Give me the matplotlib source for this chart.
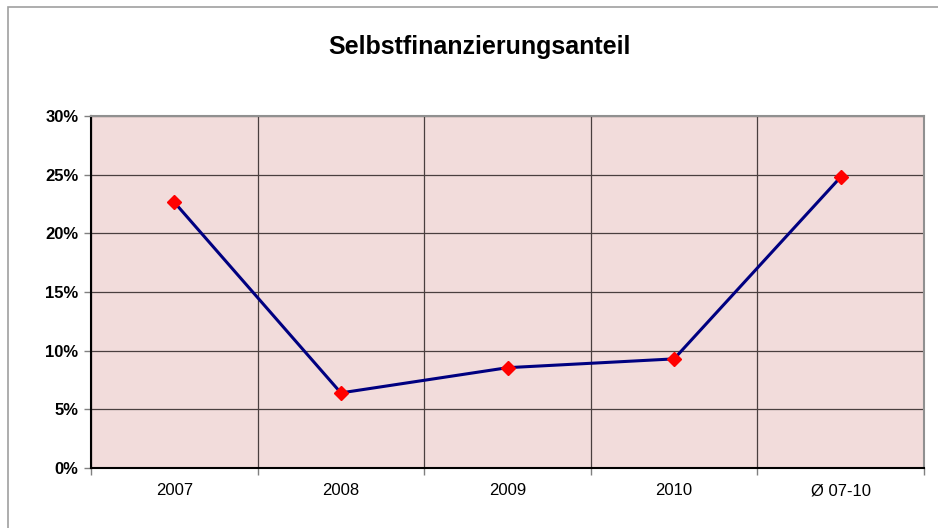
import numpy as np
import matplotlib
matplotlib.use('Agg')
import matplotlib.pyplot as plt
from matplotlib.patches import Rectangle
from matplotlib.ticker import FuncFormatter, FixedLocator

plt.rcParams['font.family'] = ['Liberation Sans', 'DejaVu Sans']

categories = ['2007', '2008', '2009', '2010', 'Ø 07-10']
anteil = [22.65, 6.4, 8.55, 9.3, 24.8]

fig = plt.figure(figsize=(9.38, 5.28), dpi=100)
# Rahmen um das Diagramm
fig.patches.append(Rectangle((8/938, -0.01), 1.0, 1 - 7/528 + 0.01, transform=fig.transFigure,
                             fill=False, edgecolor='#a0a0a0', linewidth=1.2))

ax = fig.add_axes([91/938, 60/528, 833/938, 352/528])
ax.set_facecolor('#f2dcdb')

x = np.arange(len(categories))
ax.plot(x, anteil, color='#000080', linewidth=2.2, marker='D', markersize=7,
        markerfacecolor='red', markeredgecolor='red', zorder=3)

ax.set_xlim(-0.5, len(categories) - 0.5)
ax.set_ylim(0, 30)
ax.set_yticks(np.arange(0, 31, 5))
ax.yaxis.set_major_formatter(FuncFormatter(lambda v, p: f'{v:.0f}%'))
ax.set_xticks(x)
ax.set_xticklabels(categories, fontsize=12)
ax.xaxis.set_minor_locator(FixedLocator(np.arange(-0.5, len(categories), 1)))
ax.tick_params(axis='x', which='major', length=0, pad=11)
ax.tick_params(axis='x', which='minor', length=5, width=1, color='#808080', direction='out')
ax.tick_params(axis='y', length=5, width=1, color='#808080', direction='out', labelsize=12, pad=4)
for lab in ax.get_yticklabels():
    lab.set_fontweight('bold')

ax.grid(True, axis='y', color='#4a3f3f', linewidth=0.9)
ax.grid(True, axis='x', which='minor', color='#4a3f3f', linewidth=0.9)
ax.set_axisbelow(True)

for side in ['top', 'right']:
    ax.spines[side].set_color('#909090')
    ax.spines[side].set_linewidth(1.5)
for side in ['left', 'bottom']:
    ax.spines[side].set_color('black')
    ax.spines[side].set_linewidth(1.5)

fig.text(479/938, 1 - 47/528, 'Selbstfinanzierungsanteil', ha='center', va='center',
         fontsize=18, fontweight='bold')

fig.savefig('out.png', dpi=100)
